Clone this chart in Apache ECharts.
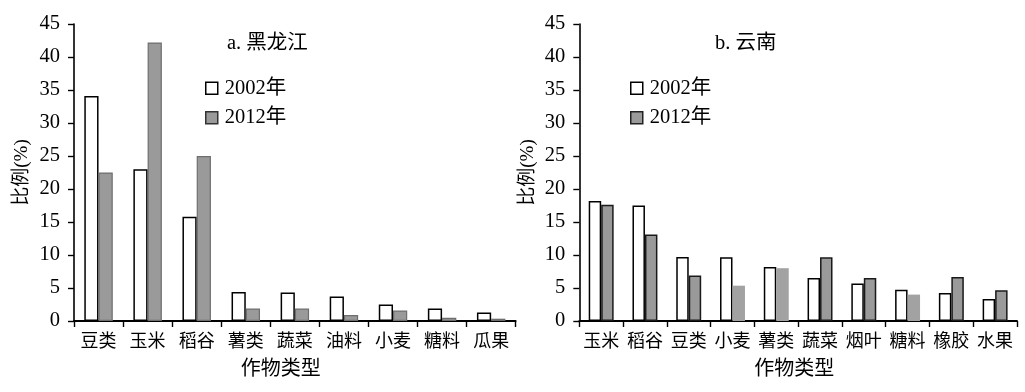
<!DOCTYPE html>
<html>
<head>
<meta charset="utf-8">
<script src="https://cdn.jsdelivr.net/npm/echarts@6/dist/echarts.min.js"></script>
<style>
html,body{margin:0;padding:0;background:#fff;}
#chart{width:1025px;height:392px;}
</style>
</head>
<body>
<div id="chart"></div>
<script>
// ---- data ----
const catsA = ['豆类','玉米','稻谷','薯类','蔬菜','油料','小麦','糖料','瓜果'];
const a2002 = [34.1, 23.0, 15.8, 4.4, 4.3, 3.7, 2.5, 1.9, 1.3];
const a2012 = [22.5, 42.2, 25.0, 1.9, 1.9, 0.9, 1.6, 0.5, 0.35];

const catsB = ['玉米','稻谷','豆类','小麦','薯类','蔬菜','烟叶','糖料','橡胶','水果'];
const b2002 = [18.2, 17.5, 9.7, 9.65, 8.2, 6.5, 5.7, 4.75, 4.25, 3.35];
const b2012 = [17.6, 13.1, 6.9, 5.35, 8.0, 9.65, 6.5, 4.0, 6.65, 4.65];

const yTicks = [0, 45, 5]; // min, max, interval
const seriesNames = ['2002年', '2012年'];
const titleA = 'a. 黑龙江';
const titleB = 'b. 云南';
const yName = '比例(%)';
const xName = '作物类型';

// ---- chart ----
const FONT = "'Liberation Serif', 'Noto Sans CJK SC', serif";
const chart = echarts.init(document.getElementById('chart'));

// bars in panel b drawn in a lighter grey without outline
const lightB = new Set(['小麦','薯类','糖料']);

function yAxis(gi) {
  return {
    type: 'value', gridIndex: gi, min: yTicks[0], max: yTicks[1], interval: yTicks[2],
    name: yName, nameLocation: 'middle', nameRotate: 90, nameGap: 42,
    nameTextStyle: { fontFamily: FONT, fontSize: 19, color: '#000' },
    axisLine: { show: true, lineStyle: { color: '#000', width: 1.6 } },
    axisTick: { show: true, length: 6, lineStyle: { color: '#000', width: 1.4 } },
    axisLabel: { fontFamily: FONT, fontSize: 20.5, color: '#000', margin: 14 },
    splitLine: { show: false }
  };
}
function xAxis(gi, cats, pad) {
  return {
    type: 'category', gridIndex: gi, data: cats,
    name: xName, nameLocation: 'middle', nameGap: 39,
    nameTextStyle: { fontFamily: FONT, fontSize: 20, color: '#000', padding: pad },
    axisLine: { show: true, lineStyle: { color: '#000', width: 1.8 } },
    axisTick: { show: true, alignWithLabel: false, length: 6, lineStyle: { color: '#000', width: 1.4 } },
    axisLabel: { interval: 0, fontFamily: FONT, fontSize: 18, color: '#000', margin: 12 },
    splitLine: { show: false }
  };
}

const whiteStyle = { color: '#ffffff', borderColor: '#000', borderWidth: 1.5 };
const greyA = { color: '#9a9a9a', borderColor: '#6e6e6e', borderWidth: 1.2 };
const greyB = { color: '#9a9a9a', borderColor: '#1a1a1a', borderWidth: 1.5 };
const greyBLight = { color: '#a2a2a2', borderWidth: 0 };

const legendText = { fontFamily: FONT, fontSize: 20.5, color: '#000', padding: [0, 0, 0, 2] };

const option = {
  animation: false,
  backgroundColor: '#fff',
  grid: [
    { left: 74, top: 24, width: 441.7, height: 297 },
    { left: 579.3, top: 24, width: 437.7, height: 297 }
  ],
  title: [
    { text: titleA, left: 222, top: 28, textStyle: { fontFamily: FONT, fontSize: 20.5, fontWeight: 'normal', color: '#000' } },
    { text: titleB, left: 710, top: 28, textStyle: { fontFamily: FONT, fontSize: 20.5, fontWeight: 'normal', color: '#000' } }
  ],
  legend: [
    {
      orient: 'vertical', left: 200, top: 73, itemWidth: 12, itemHeight: 12, itemGap: 9,
      textStyle: legendText,
      data: [
        { name: seriesNames[0], icon: 'rect', itemStyle: { color: '#fff', borderColor: '#000', borderWidth: 1.5 } },
        { name: seriesNames[1], icon: 'rect', itemStyle: { color: '#9a9a9a', borderColor: '#333', borderWidth: 1.5 } }
      ],
      selectedMode: false
    },
    {
      orient: 'vertical', left: 625, top: 73, itemWidth: 12, itemHeight: 12, itemGap: 9,
      textStyle: legendText,
      data: [
        { name: seriesNames[0], icon: 'rect', itemStyle: { color: '#fff', borderColor: '#000', borderWidth: 1.5 } },
        { name: seriesNames[1], icon: 'rect', itemStyle: { color: '#9a9a9a', borderColor: '#222', borderWidth: 1.5 } }
      ],
      selectedMode: false
    }
  ],
  xAxis: [ xAxis(0, catsA, [0, 28, 0, 0]), xAxis(1, catsB, [0, 8, 0, 0]) ],
  yAxis: [ yAxis(0), yAxis(1) ],
  series: [
    { name: seriesNames[0], type: 'bar', xAxisIndex: 0, yAxisIndex: 0, data: a2002,
      barGap: '0%', barCategoryGap: '42%', itemStyle: whiteStyle },
    { name: seriesNames[1], type: 'bar', xAxisIndex: 0, yAxisIndex: 0, data: a2012,
      barGap: '0%', barCategoryGap: '42%', itemStyle: greyA },
    { name: seriesNames[0], type: 'bar', xAxisIndex: 1, yAxisIndex: 1, data: b2002,
      barGap: '0%', barCategoryGap: '43%', itemStyle: whiteStyle },
    { name: seriesNames[1], type: 'bar', xAxisIndex: 1, yAxisIndex: 1,
      data: b2012.map((v, i) => ({ value: v, itemStyle: lightB.has(catsB[i]) ? greyBLight : greyB })),
      barGap: '0%', barCategoryGap: '43%', itemStyle: greyB }
  ]
};
chart.setOption(option);
</script>
</body>
</html>
